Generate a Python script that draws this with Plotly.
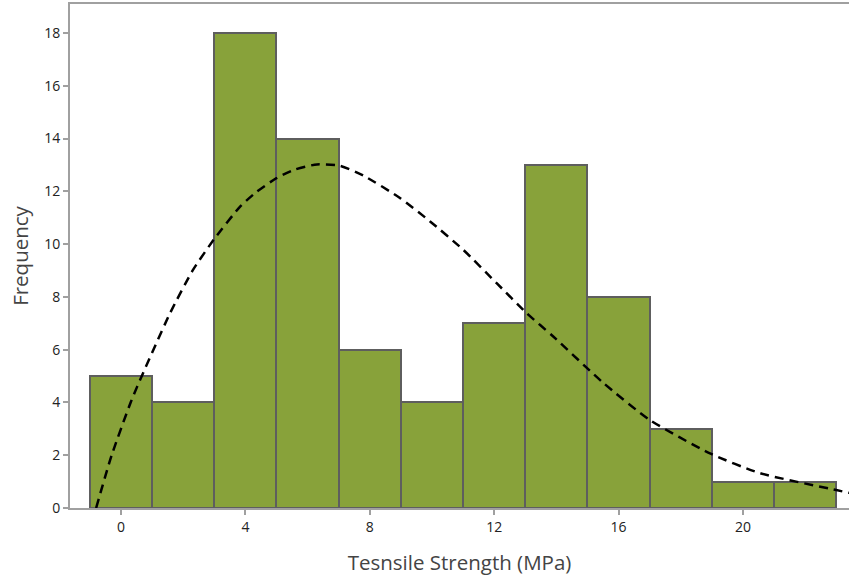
import plotly.graph_objects as go

# Histogram data
bin_centers = [0, 2, 4, 6, 8, 10, 12, 14, 16, 18, 20, 22]
frequencies = [5, 4, 18, 14, 6, 4, 7, 13, 8, 3, 1, 1]
bin_width = 2

# Fitted distribution curve
curve_x = [-0.8, -0.3, 0.31, 0.52, 1.58, 2.32, 3.02, 3.83, 4.36, 5.0, 5.6, 6.3, 7.04, 7.79,
           8.97, 9.94, 11.0, 12.08, 13.04, 13.9, 15.5, 17.0, 18.94, 20.55, 23.0, 23.6]
curve_y = [0, 2, 4, 4.6, 7.39, 9.03, 10.23, 11.42, 11.98, 12.5, 12.83, 13.02, 12.97, 12.6,
           11.75, 10.86, 9.79, 8.52, 7.39, 6.5, 4.75, 3.34, 2.07, 1.32, 0.68, 0.53]

x_ticks = [0, 4, 8, 12, 16, 20]
y_ticks = [0, 2, 4, 6, 8, 10, 12, 14, 16, 18]

fig = go.Figure()
fig.add_trace(go.Bar(
    x=bin_centers, y=frequencies, width=[bin_width] * len(bin_centers),
    marker=dict(color="#88A23A", line=dict(color="#5E5E5E", width=2)),
    showlegend=False, hoverinfo="x+y",
))
fig.add_trace(go.Scatter(
    x=curve_x, y=curve_y, mode="lines",
    line=dict(color="black", width=2.5, dash="9px,6px", shape="spline", smoothing=0.6),
    showlegend=False, cliponaxis=True,
))

font_family = "Open Sans, Noto Sans, sans-serif"
axis_font = dict(family=font_family, size=14, color="#222222")
title_font = dict(family=font_family, size=20.5, color="#444444")
fig.update_layout(
    width=849, height=579,
    margin=dict(l=70, r=0, t=4, b=71),
    paper_bgcolor="white", plot_bgcolor="white",
    bargap=0,
    xaxis=dict(
        range=[-1.64, 23.41], tickvals=x_ticks, ticktext=[str(v) for v in x_ticks],
        showgrid=False, zeroline=False,
        showline=True, linecolor="#A0A0A0", linewidth=2, mirror=True,
        ticks="outside", ticklen=5, tickwidth=1.5, tickcolor="#A0A0A0",
        tickfont=axis_font,
        title=dict(text="Tesnsile Strength (MPa)", standoff=21, font=title_font),
    ),
    yaxis=dict(
        range=[0, 19.1], tickvals=y_ticks, ticktext=[str(v) for v in y_ticks],
        showgrid=False, zeroline=False,
        showline=True, linecolor="#A0A0A0", linewidth=2,
        ticks="outside", ticklen=5, tickwidth=1.5, tickcolor="#A0A0A0",
        tickfont=axis_font,
        title=dict(text="Frequency", standoff=10, font=title_font),
    ),
)

fig.write_html("out.html")
